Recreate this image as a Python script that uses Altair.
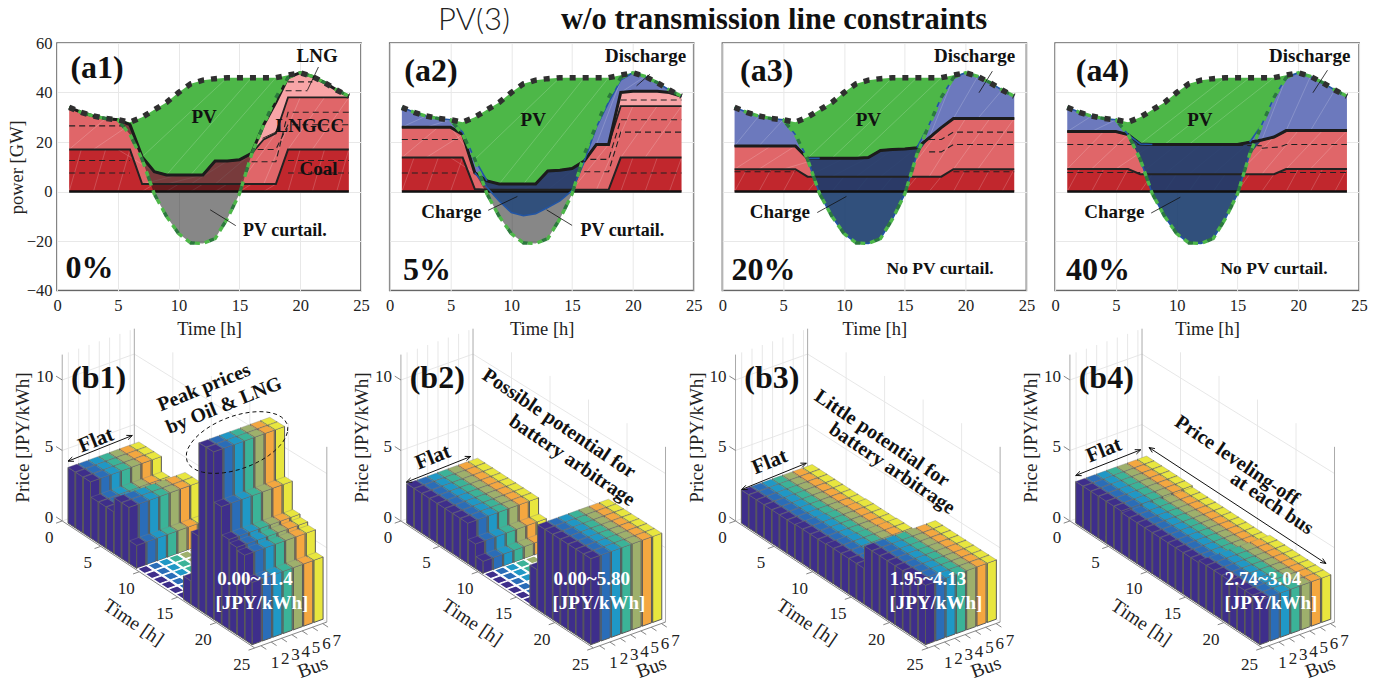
import math
import altair as alt
import pandas as pd

SERIF = "Liberation Serif"
T = list(range(1, 25))

demand = [34, 32, 30.5, 29.5, 29, 28, 30, 33, 36, 40, 43.5, 45, 45.6, 46, 46, 46, 46, 46, 47, 48, 46.5, 44, 41, 38.5]
net = [34, 32, 30.5, 29.5, 29, 23, 13, -1, -10, -17, -20.8, -21, -19, -11, -1, 15, 27, 38, 46, 48, 46.5, 44, 41, 38.5]

coal_1 = [17] * 6 + [3] * 12 + [17] * 6
lngcc_1 = [34, 32, 30.5, 29.5, 29, 27, 14, 8, 6.7, 6.7, 6.7, 6.7, 12.3, 12.3, 12.8, 15.4, 21, 23.5, 38, 38, 38, 38, 38, 38]
thermal_1 = [34, 32, 30.5, 29.5, 29, 27, 14, 8, 6.7, 6.7, 6.7, 6.7, 12.3, 12.3, 12.8, 15.4, 27, 36, 46, 48, 46.5, 44, 41, 38.5]
top_1 = thermal_1
bot_1 = thermal_1

coal_2 = [13.7] * 6 + [1] + [0.7] * 11 + [13.7] * 6
lngcc_2 = [26, 26, 26, 26, 26, 23, 7.6, 4.3, 3, 3, 3, 3, 8.3, 8.6, 9.3, 12.3, 19, 19, 34.5, 34.5, 34.5, 34.5, 34.5, 34.5]
thermal_2 = [26, 26, 26, 26, 26, 23, 7.6, 4.3, 3, 3, 3, 3, 8.3, 8.6, 9.3, 12.3, 19, 19, 40, 40.5, 40.5, 40.5, 40, 38.5]
top_2 = [34, 32, 30.5, 29.5, 29, 24, 13, 4.3, 3, 3, 3, 3, 8.3, 8.6, 9.3, 12.3, 26, 36, 45, 48, 46.5, 44, 41, 38.5]
bot_2 = [26, 26, 26, 26, 26, 23, 7.6, 1.6, -3.8, -8.5, -9.8, -9, -6.5, -3.8, 0.4, 12, 19, 19, 40, 40.5, 40.5, 40.5, 40, 38.5]

coal_3 = [9] * 6 + [6] * 12 + [9] * 6
thermal_3 = [18.4, 18.4, 18.4, 18.4, 18.4, 18.4, 13.4, 13.4, 13.4, 13.4, 13.4, 13.7, 16.6, 17, 17.2, 17.7, 21.7, 25.8, 29.5, 29.5, 29.5, 29.5, 29.5, 29.5]
lngcc_3 = thermal_3
top_3 = [34, 32, 30.5, 29.5, 29, 23, 13.4, 13.4, 13.4, 13.4, 13.4, 13.7, 16.6, 17, 17.2, 17.7, 27, 38, 46, 48, 46.5, 44, 41, 38.5]
bot_3 = [18.4, 18.4, 18.4, 18.4, 18.4, 18.4, 13, -1, -10, -17, -20.8, -21, -19, -11, -1, 15, 21.7, 25.8, 29.5, 29.5, 29.5, 29.5, 29.5, 29.5]

coal_4 = [9.1] * 6 + [7] * 12 + [9.1] * 6
thermal_4 = [24.2, 24.2, 24.2, 24.2, 24.2, 23, 19.2, 19, 19, 19, 19, 19, 19, 19, 19, 19.9, 20.8, 22, 24.6, 24.6, 24.6, 24.6, 24.6, 24.6]
lngcc_4 = thermal_4
top_4 = [34, 32, 30.5, 29.5, 29, 23, 19.2, 19, 19, 19, 19, 19, 19, 19, 19, 19.9, 27, 38, 46, 48, 46.5, 44, 41, 38.5]
bot_4 = [24.2, 24.2, 24.2, 24.2, 24.2, 23, 13, -1, -10, -17, -20.8, -21, -19, -11, -1, 15, 20.8, 22, 24.6, 24.6, 24.6, 24.6, 24.6, 24.6]

dash_1 = [[(1, 26.5), (6, 26.5)], [(1, 12.5), (6, 12.5)], [(1, 7.5), (6, 7.5)], [(19, 12.5), (24, 12.5)], [(19, 7.5), (24, 7.5)],
          [(16, 12), (18, 12), (19, 32), (24, 32)], [(16.5, 17), (18, 17), (19, 27), (24, 27)], [(19, 44.3), (21, 44.3)], [(18.8, 40.7), (20.6, 40.7)]]
dash_2 = [[(1, 21), (5.8, 21)], [(1, 7.5), (5.5, 7.5)], [(19, 7.5), (24, 7.5)], [(16, 8), (18, 8), (19, 24), (24, 24)],
          [(16.5, 13), (18, 13), (19, 29), (24, 29)], [(19, 37), (24, 37)]]
dash_3 = [[(1, 8), (6, 8)], [(19, 8), (24, 8)], [(17, 21), (18, 21), (19, 24), (24, 24)], [(17, 16), (18, 16), (19, 19), (24, 19)]]
dash_4 = [[(1, 19), (7, 19), (17, 18.5)], [(17, 17.5), (18.5, 18), (19, 19), (24, 19)], [(1, 7.7), (7, 7.7)], [(18.5, 7.7), (24, 7.7)]]

price_1 = [3.95, 3.95, 3.95, 2.9, 2.9, 2.9, 3.9, 3.9, 1.6, 0, 0, 0, 0, 0, 0, 1.6, 5.0, 11.4, 11.4, 8.0, 6.1, 5.9, 5.7, 4.2]
price_2 = [2.8, 2.8, 2.8, 2.8, 2.8, 2.8, 2.8, 2.8, 1.7, 0.85, 0, 0, 0, 0, 0, 0, 2.7, 5.8, 5.8, 5.8, 5.8, 5.8, 5.8, 5.8]
price_3 = [2.35, 2.35, 2.35, 2.35, 2.35, 2.35, 2.35, 2.4, 2.4, 2.4, 2.4, 2.45, 2.45, 2.45, 2.45, 2.45, 4.0, 4.0, 4.0, 4.0, 4.0, 4.0, 4.0, 4.0]
price_4 = [2.95, 2.95, 2.95, 2.95, 2.95, 2.95, 2.85, 2.85, 2.85, 2.85, 2.85, 2.85, 2.85, 2.85, 2.85, 2.85, 3.0, 3.0, 3.0, 3.0, 3.0, 3.0, 3.0, 3.0]

BUS_COLORS = ["#3e2e8b", "#2a6db8", "#1f98c6", "#3bb398", "#9eb06c", "#f4a740", "#e8e63e"]
C_COAL, C_LNGCC, C_LNG, C_PV = "#c1272d", "#e06669", "#f8a5a7", "#4db748"
C_DIS, C_CHG, C_BLUE = "#6c79bd", "#1b3d6e", "#2255a4"

PANEL_W, PANEL_H = 304, 247.5
COL_STEP = 332.7
xs_a = alt.Scale(domain=[0, 25], nice=False, zero=False)
ys_a = alt.Scale(domain=[-40, 60], nice=False, zero=False)
X_NOAX = alt.X("x:Q", scale=xs_a, axis=None)
Y_NOAX = alt.Y("y:Q", scale=ys_a, axis=None)


def polylines(lines, color, width, dash=None, x=X_NOAX, y=Y_NOAX, opacity=1.0):
    rows = []
    for i, ln in enumerate(lines):
        for k, (a, b) in enumerate(ln):
            rows.append({"x": a, "y": b, "id": i, "k": k})
    kw = {"strokeDash": dash} if dash else {}
    return alt.Chart(pd.DataFrame(rows)).mark_line(
        color=color, strokeWidth=width, opacity=opacity, clip=False, **kw
    ).encode(x=x, y=y, detail="id:N", order="k:Q")


def label(s, a, b, x=X_NOAX, y=Y_NOAX, size=19, bold=True, align="left", angle=0, color="#111", base="alphabetic", font=SERIF, weight=None):
    return alt.Chart(pd.DataFrame([{"x": a, "y": b, "s": s}])).mark_text(
        font=font, fontSize=size, fontWeight=weight if weight else ("bold" if bold else "normal"),
        align=align, baseline=base, angle=angle % 360, color=color, clip=False
    ).encode(x=x, y=y, text="s:N")


def mesh(low, up, step):
    lines = []
    for j in range(0, 24 - step, 2):
        if up[j] - low[j] > 1.5 and up[j + step] - low[j + step] > 1.5:
            lines.append([(T[j], low[j]), (T[j + step], up[j + step])])
    return lines


def supply_panel(i, coal, lngcc, thermal, top, bot, dashes, texts, pointers, y_axis):
    df = pd.DataFrame({"t": T, "demand": demand, "net": net, "coal": coal, "lngcc": lngcc, "thermal": thermal, "top": top, "bot": bot})
    df["zero"] = 0.0
    df["gray"] = [min(n, b) for n, b in zip(net, bot)]
    x = alt.X("t:Q", scale=xs_a, axis=None)

    def area(a, b, color, opacity=1.0):
        return alt.Chart(df).mark_area(color=color, opacity=opacity).encode(x=x, y=alt.Y(f"{a}:Q", scale=ys_a, axis=None), y2=f"{b}:Q")

    def line(frame, f, color, width, dash=None, off=0):
        kw = {"strokeDash": dash, "strokeDashOffset": off} if dash else {}
        return alt.Chart(frame).mark_line(color=color, strokeWidth=width, **kw).encode(x=x, y=alt.Y(f"{f}:Q", scale=ys_a, axis=None))

    grid = alt.Chart(pd.DataFrame({"t": [0], "v": [0]})).mark_point(opacity=0).encode(
        x=alt.X("t:Q", scale=xs_a, axis=alt.Axis(values=[0, 5, 10, 15, 20, 25], title="Time [h]", grid=True, gridColor="#e8e8e8", ticks=False, domain=False,
                                                labelPadding=7, titlePadding=5, format="d", labelFlush=False)),
        y=alt.Y("v:Q", scale=ys_a, axis=alt.Axis(values=[-40, -20, 0, 20, 40, 60], title="power [GW]" if y_axis else None, labels=y_axis, grid=True, gridColor="#e8e8e8",
                                                ticks=False, domain=False, labelPadding=5, titlePadding=0, format="d", labelFlush=False)),
    )
    layers = [grid, area("zero", "coal", C_COAL), area("coal", "lngcc", C_LNGCC), area("lngcc", "thermal", C_LNG), area("top", "demand", C_PV),
              area("thermal", "top", C_DIS)]
    wires = mesh([0] * 24, coal, 1) + mesh(coal, lngcc, 3) + mesh(top, demand, 7) + mesh(thermal, top, 2)
    layers.append(polylines(wires, "#ffffff", 0.6, opacity=0.3))
    layers += [area("bot", "thermal", C_CHG, 0.9), area("gray", "bot", "#101010", 0.5)]
    layers.append(polylines(dashes, "#222", 1.1, [6, 4]))
    layers.append(line(df, "zero", "#111", 2.4))
    layers.append(line(df, "coal", "#222", 2.0))
    layers.append(line(df, "lngcc", "#222", 1.8))
    layers.append(line(df, "thermal", "#1c1c1c", 3.0))
    if i > 0:
        layers.append(line(df[df.t <= 8], "top", C_BLUE, 1.6))
        layers.append(line(df[df.t >= 16], "top", C_BLUE, 1.6))
        layers.append(line(df[(df.t >= 7) & (df.t <= 16)], "bot", C_BLUE, 1.6))
    layers.append(line(df, "net", C_PV, 3.4, [5, 5]))
    layers.append(line(df, "net", "#2b7a3c", 3.4, [5, 15], 5))
    layers.append(line(df, "demand", "#2f2f2f", 5.5, [6, 7]))
    layers.append(polylines(pointers, "#111", 0.8))
    layers += texts
    return alt.layer(*layers).resolve_axis(x="independent", y="independent").properties(
        width=PANEL_W, height=PANEL_H, view=alt.ViewBackground(stroke="#666", strokeWidth=1.6))


a1_txt = [label("(a1)", 1.1, 46, size=32), label("0%", 0.7, -35, size=32), label("LNG", 19.7, 52.3), label("LNGCC", 20.8, 24, align="center"),
          label("Coal", 21.5, 6.5, align="center"), label("PV", 12.1, 27.5, align="center"), label("PV curtail.", 15.3, -18, size=18)]
a1_ptr = [[(21.5, 50.3), (20.6, 41)], [(16.9, 21.5), (18, 24), (18.3, 27)], [(12.6, -7.4), (14.7, -13.8)]]
a2_txt = [label("(a2)", 1.2, 44.7, size=32), label("5%", 1.1, -35.6, size=32), label("Discharge", 17.7, 52.5), label("PV", 11.8, 26.5, align="center"),
          label("Charge", 2.6, -10.6), label("PV curtail.", 15.7, -18, size=18)]
a2_ptr = [[(8.1, -7.6), (10.5, -2)], [(12.9, -7.4), (15, -13.7)], [(21.4, 47.4), (20.3, 42.7)]]
a3_txt = [label("(a3)", 1.45, 44.7, size=32), label("20%", 0.75, -35.7, size=32), label("Discharge", 17.4, 52.5), label("PV", 12, 26.5, align="center"),
          label("Charge", 2.25, -10.6), label("No PV curtail.", 13.5, -33.5, size=17.5)]
a3_ptr = [[(7.8, -8.5), (10.2, -2)], [(22.2, 48.6), (21.1, 39.9)]]
a4_txt = [label("(a4)", 1.7, 44.7, size=32), label("40%", 0.9, -35.7, size=32), label("Discharge", 17.6, 52.5), label("PV", 11.9, 26.5, align="center"),
          label("Charge", 2.4, -10.6), label("No PV curtail.", 13.6, -33.5, size=17.5)]
a4_ptr = [[(7.9, -8.7), (10.3, -2.3)], [(22.4, 49), (21.2, 39.9)]]

title_layers = [
    label("PV(3)", 381, 0, x=alt.value(381), y=alt.value(-13), size=31, font="Lato", weight=300, color="#222"),
    label("w/o transmission line constraints", 504, 0, x=alt.value(504), y=alt.value(-14), size=30.5),
]

a1 = supply_panel(0, coal_1, lngcc_1, thermal_1, top_1, bot_1, dash_1, a1_txt + title_layers, a1_ptr, True)
a2 = supply_panel(1, coal_2, lngcc_2, thermal_2, top_2, bot_2, dash_2, a2_txt, a2_ptr, False)
a3 = supply_panel(2, coal_3, lngcc_3, thermal_3, top_3, bot_3, dash_3, a3_txt, a3_ptr, False)
a4 = supply_panel(3, coal_4, lngcc_4, thermal_4, top_4, bot_4, dash_4, a4_txt, a4_ptr, False)

# ----- price panels: oblique projection of (time, bus, price) into panel units
BW, BH = 304, 332
LEFT = [58 + COL_STEP * n for n in range(4)]
START = [69, 407.7, 742.3, 1076.7]
xs_b = alt.Scale(domain=[0, BW], nice=False, zero=False)
ys_b = alt.Scale(domain=[BH, 0], nice=False, zero=False)
X_B = alt.X("x:Q", scale=xs_b, axis=None)
Y_B = alt.Y("y:Q", scale=ys_b, axis=None)
BUS_MIN, BUS_MAX = 0.4, 7.4


def proj(i, t, b, z):
    k = 14.1 + 0.03 * t
    return (START[i] + 7.7 * (t - 0.55) + 10.3 * (b - 0.55) - LEFT[i],
            522.7 - 340 + 5.08 * (t - 0.55) - 3.7 * (b - 0.55) - k * z)


def bar_rows(i, price):
    rows = []
    fid = 0
    wt, wb = 0.46, 0.44

    def face(verts, col, stroke, sw):
        nonlocal fid
        fid += 1
        for k, (a, b, z) in enumerate(verts + verts[:1]):
            px, py = proj(i, a, b, z)
            rows.append({"x": round(px, 2), "y": round(py, 2), "f": fid, "k": k, "c": col, "s": stroke, "w": sw})

    for t, z in zip(T, price):
        for b in range(7, 0, -1):
            c = BUS_COLORS[b - 1]
            t0, t1, b0, b1 = t - wt, t + wt, b - wb, b + wb
            if z <= 0:
                face([(t0, b0, 0), (t1, b0, 0), (t1, b1, 0), (t0, b1, 0)], c, "#ffffff", 1.1)
                continue
            face([(t0, b0, 0), (t1, b0, 0), (t1, b0, z), (t0, b0, z)], c, "#5a5a5a", 1.0)
            face([(t1, b0, 0), (t1, b1, 0), (t1, b1, z), (t1, b0, z)], c, "#5a5a5a", 1.0)
            face([(t0, b0, z), (t1, b0, z), (t1, b1, z), (t0, b1, z)], c, "#808080", 0.35)
    return pd.DataFrame(rows)


def arrow(a, b, head=6):
    ang = math.atan2(b[1] - a[1], b[0] - a[0])
    out = [[a, b]]
    for p, base in ((a, ang), (b, ang + math.pi)):
        out.append([(p[0] + head * math.cos(base + 0.4), p[1] + head * math.sin(base + 0.4)), p,
                    (p[0] + head * math.cos(base - 0.4), p[1] + head * math.sin(base - 0.4))])
    return out


def price_panel(i, price, name, white_lines, notes, extra_lines):
    L = LEFT[i]
    rel = lambda pts: [(a - L, b - 340) for a, b in pts]
    walls = []
    for z in (5, 10):
        walls.append([proj(i, 0, BUS_MIN, z), proj(i, 0, BUS_MAX, z), proj(i, 25, BUS_MAX, z)])
    walls.append([proj(i, 0, BUS_MIN, 0), proj(i, 0, BUS_MAX, 0), proj(i, 25, BUS_MAX, 0)])
    for t in (5, 10, 15, 20):
        walls.append([proj(i, t, BUS_MAX, 0), proj(i, t, BUS_MAX, 11.8)])
    for b in range(1, 8):
        walls.append([proj(i, 0, b, 0), proj(i, 0, b, 11.8)])
    frame = [[proj(i, 0, BUS_MIN, 0), proj(i, 0, BUS_MIN, 11.8)],
             [proj(i, 0, BUS_MAX, 0), proj(i, 0, BUS_MAX, 11.8)],
             [proj(i, 25, BUS_MAX, 0), proj(i, 25, BUS_MAX, 11.8)]]
    axes = [[proj(i, 0, BUS_MIN, 0), proj(i, 25, BUS_MIN, 0), proj(i, 25, BUS_MAX, 0)]]
    ticks = []
    for t in (0, 5, 10, 15, 20, 25):
        ticks.append([proj(i, t, BUS_MIN, 0), proj(i, t, BUS_MIN - 0.6, 0)])
    for b in range(1, 8):
        ticks.append([proj(i, 25, b, 0), proj(i, 25.7, b, 0)])
    for z in (0, 5, 10):
        ticks.append([proj(i, 0, BUS_MIN, z), proj(i, -0.8, BUS_MIN, z)])

    layers = [polylines(walls, "#e4e4e4", 0.9, x=X_B, y=Y_B), polylines(frame, "#aaaaaa", 1.0, x=X_B, y=Y_B)]
    bars = bar_rows(i, price)
    layers.append(alt.Chart(bars).mark_line(clip=False).encode(
        x=X_B, y=Y_B, detail="f:N", order="k:Q",
        fill=alt.Fill("c:N", scale=None), stroke=alt.Stroke("s:N", scale=None), strokeWidth=alt.StrokeWidth("w:Q", scale=None)))
    layers.append(polylines(axes, "#888888", 1.0, x=X_B, y=Y_B))
    layers.append(polylines(ticks, "#777777", 0.9, x=X_B, y=Y_B))
    tx = lambda s, a, b, **kw: label(s, a, b, x=X_B, y=Y_B, **kw)
    for z in (0, 5, 10):
        p = proj(i, 0, BUS_MIN, z)
        layers.append(tx(str(z), p[0] - 9, p[1] - 3, size=17, bold=False, align="right", base="middle", color="#222"))
    for t in (0, 5, 10, 15, 20, 25):
        p = proj(i, t, BUS_MIN, 0)
        layers.append(tx(str(t), p[0] - 13, p[1] + 17, size=17, bold=False, align="center", base="middle", color="#222"))
    for b in range(1, 8):
        p = proj(i, 25, b, 0)
        layers.append(tx(str(b), p[0] + 14, p[1] + 17, size=17, bold=False, align="center", base="middle", color="#222"))
    o = proj(i, 0, BUS_MIN, 0)
    layers.append(tx("Price [JPY/kWh]", o[0] - 39, 97, size=19, bold=False, align="center", base="middle", angle=-90, color="#222"))
    tl = proj(i, 12.5, BUS_MIN, 0)
    layers.append(tx("Time [h]", tl[0] - 25, tl[1] + 38, size=19.5, bold=False, align="center", base="middle", angle=34, color="#222"))
    bl = proj(i, 25, 7, 0)
    layers.append(tx("Bus", bl[0] - 10, bl[1] + 44, size=19.5, bold=False, align="center", base="middle", angle=-20, color="#222"))
    ax = (START[i] + 3 - L, 387 - 340)
    layers.append(tx(name, ax[0], ax[1], size=32))
    for s, (a, b) in white_lines:
        layers.append(tx(s, a - L, b - 340, size=19, align="center", base="middle", color="#ffffff"))
    for s, a, b, ang, size in notes:
        layers.append(tx(s, a - L, b - 340, size=size, align="center", base="middle", angle=ang))
    for pts, dash, width in extra_lines:
        layers.append(polylines([rel(p) for p in pts], "#111", width, dash=dash, x=X_B, y=Y_B))
    return alt.layer(*layers).properties(width=BW, height=BH, view=alt.ViewBackground(stroke=None))


ell = [(238 + 52 * math.cos(a / 40 * 2 * math.pi) * 0.97 - 30 * math.sin(a / 40 * 2 * math.pi) * 0.2,
        442 + 30 * math.sin(a / 40 * 2 * math.pi) * 0.97 - 52 * math.cos(a / 40 * 2 * math.pi) * 0.2) for a in range(41)]

b1 = price_panel(0, price_1, "(b1)", [("0.00~11.4", (256, 578)), ("[JPY/kWh]", (263, 602))],
                 [("Flat", 97, 440, -22, 21), ("Peak prices", 205, 387, -22, 20), ("by Oil & LNG", 225, 405, -22, 20)],
                 [(arrow((69, 460.7), (133.3, 435)), None, 1.0), ([ell], [4, 3], 1.0)])
b2 = price_panel(1, price_2, "(b2)", [("0.00~5.80", (592.7, 578)), ("[JPY/kWh]", (600, 602))],
                 [("Flat", 434, 457, -22, 21), ("Possible potential for", 560, 423, 34, 20), ("battery arbitrage", 573, 460, 34, 20)],
                 [(arrow((407.3, 481.7), (471.7, 456)), None, 1.0)])
b3 = price_panel(2, price_3, "(b3)", [("1.95~4.13", (929, 578)), ("[JPY/kWh]", (937, 602))],
                 [("Flat", 770.7, 461.7, -22, 21), ("Little potential for", 883, 438, 34, 20), ("battery arbitrage", 893, 468, 34, 20)],
                 [(arrow((742.7, 489), (807.3, 462.7)), None, 1.0)])
b4 = price_panel(3, price_4, "(b4)", [("2.74~3.04", (1264, 578)), ("[JPY/kWh]", (1272, 602))],
                 [("Flat", 1105, 450, -22, 21), ("Price leveling-off", 1238, 460, 34, 20), ("at each bus", 1273, 503, 34, 20)],
                 [(arrow((1076.7, 475), (1141.7, 449.3)), None, 1.0), (arrow((1150, 447), (1327, 563)), None, 1.0)])

chart = alt.concat(a1, a2, a3, a4, b1, b2, b3, b4, columns=4, spacing={"row": 49.5, "column": COL_STEP - PANEL_W}, bounds="flush").properties(
    padding={"left": -2, "top": -4, "right": 0, "bottom": 5}, background="white"
).configure_view(stroke=None).configure_axis(
    labelFont=SERIF, titleFont=SERIF, labelFontSize=16.5, titleFontSize=18.5, titleFontWeight="normal", labelColor="#222", titleColor="#222"
)
chart.save("out.html", embed_options={"renderer": "svg", "actions": False})
